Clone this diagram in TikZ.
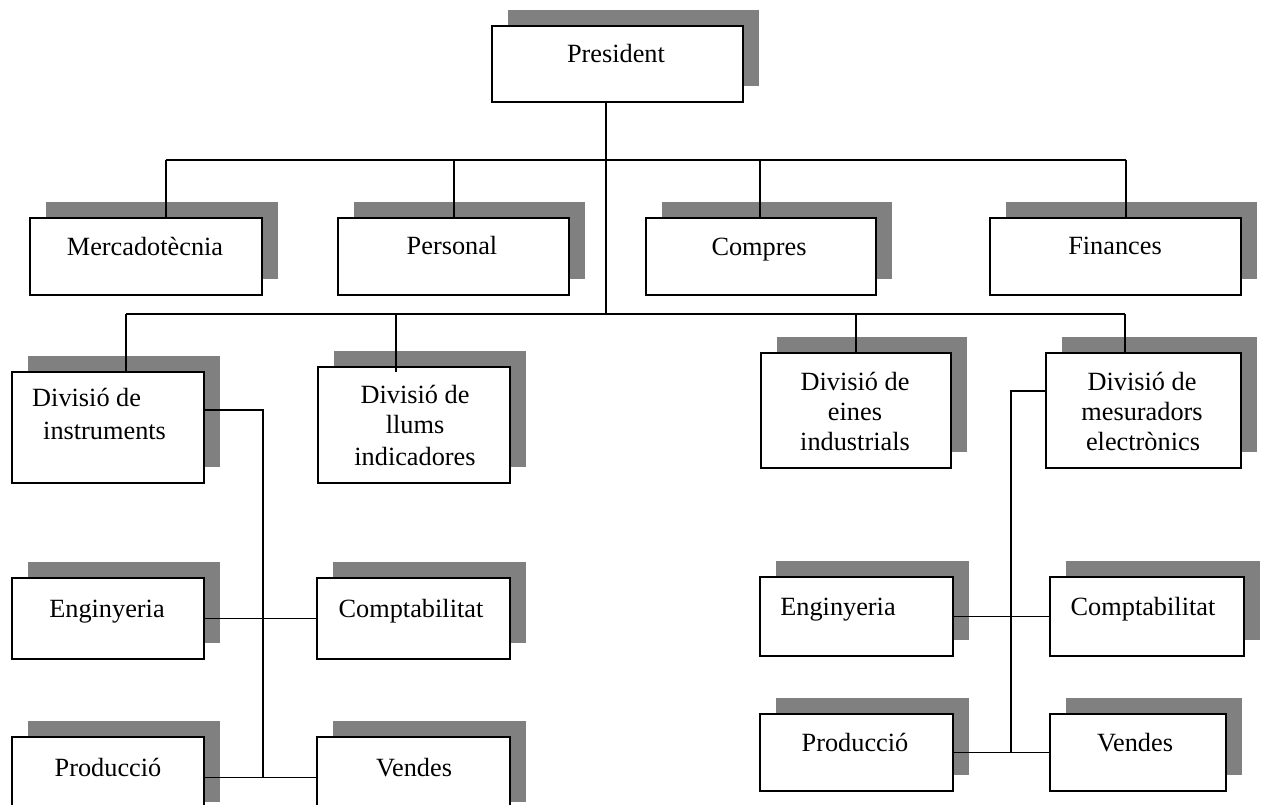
\documentclass[tikz,border=0pt]{standalone}
\usepackage{fontspec}
\setmainfont{Liberation Serif}
\usetikzlibrary{shadows}
\definecolor{shadowgray}{RGB}{128,128,128}
\begin{document}
\begin{tikzpicture}[x=1pt,y=-1pt,
  orgbox/.style={draw=black, line width=1.8pt, fill=white, inner sep=0pt, rectangle,
    drop shadow={shadow xshift=16pt, shadow yshift=16pt, fill=shadowgray, opacity=1}},
  boxsize/.style 2 args={minimum width=#1pt, minimum height=#2pt},
  lbl/.style={inner sep=0pt, anchor=base, font=\fontsize{26.3pt}{31pt}\selectfont},
  lblw/.style={lbl, anchor=base west},
  link/.style={line width=1.8pt, draw=black}]
\useasboundingbox (0,0) rectangle (1265,805);
\clip (0,0) rectangle (1265,805);

% ---- top level
\node[orgbox, boxsize={251}{76}] (pres) at (617.5,64) {};
\node[lbl] (pres-t) at (616,63) {President};

% ---- staff departments
\node[orgbox, boxsize={232}{77}] (merc) at (146,256.5) {};
\node[lbl] (merc-t) at (145,255) {Mercadotècnia};
\node[orgbox, boxsize={231}{77}] (pers) at (453.5,256.5) {};
\node[lbl] (pers-t) at (452,254) {Personal};
\node[orgbox, boxsize={230}{77}] (comp) at (761,256.5) {};
\node[lbl] (comp-t) at (759,255) {Compres};
\node[orgbox, boxsize={251}{77}] (fin) at (1115.5,256.5) {};
\node[lbl] (fin-t) at (1115,254) {Finances};

% ---- divisions
\node[orgbox, boxsize={192}{111}] (instr) at (108,427.5) {};
\node[lblw] (instr-t1) at (32,406) {Divisió de};
\node[lblw] (instr-t2) at (43,439) {instruments};

\node[orgbox, boxsize={192}{116}] (llums) at (414,425) {};
\node[lbl] (llums-t1) at (415,403) {Divisió de};
\node[lbl] (llums-t2) at (415,433) {llums};
\node[lbl] (llums-t3) at (415,465) {indicadores};

\node[orgbox, boxsize={190}{115}] (eines) at (856,410.5) {};
\node[lbl] (eines-t1) at (855,390) {Divisió de};
\node[lbl] (eines-t2) at (855,420) {eines};
\node[lbl] (eines-t3) at (855,450) {industrials};

\node[orgbox, boxsize={195}{115}] (mesur) at (1143.5,410.5) {};
\node[lbl] (mesur-t1) at (1142,390) {Divisió de};
\node[lbl] (mesur-t2) at (1142,420) {mesuradors};
\node[lbl] (mesur-t3) at (1143,450) {electrònics};

% ---- units of the instruments division
\node[orgbox, boxsize={192}{81}] (leng) at (108,618.5) {};
\node[lbl] (leng-t) at (107,617) {Enginyeria};
\node[orgbox, boxsize={193}{81}] (lcomp) at (413.5,618.5) {};
\node[lbl] (lcomp-t) at (411,617) {Comptabilitat};
\node[orgbox, boxsize={192}{81}] (lprod) at (108,777.5) {};
\node[lbl] (lprod-t) at (108,776) {Producció};
\node[orgbox, boxsize={193}{81}] (lvend) at (413.5,777.5) {};
\node[lbl] (lvend-t) at (414,776) {Vendes};

% ---- units of the electronic meters division
\node[orgbox, boxsize={193}{79}] (reng) at (856.5,616.5) {};
\node[lbl] (reng-t) at (838,615) {Enginyeria};
\node[orgbox, boxsize={194}{79}] (rcomp) at (1147,616.5) {};
\node[lbl] (rcomp-t) at (1143,615) {Comptabilitat};
\node[orgbox, boxsize={193}{77}] (rprod) at (856.5,752.5) {};
\node[lbl] (rprod-t) at (855,751) {Producció};
\node[orgbox, boxsize={176}{77}] (rvend) at (1138,752.5) {};
\node[lbl] (rvend-t) at (1135,751) {Vendes};

% ---- junction points
\coordinate (t0) at (606,160);
\coordinate (b0) at (606,314);
\coordinate (tm) at (166,160);
\coordinate (tp) at (454,160);
\coordinate (tc) at (760,160);
\coordinate (tf) at (1126,160);
\coordinate (bi) at (126,314);
\coordinate (bl) at (396,314);
\coordinate (be) at (856,314);
\coordinate (bm) at (1125,314);
\coordinate (li) at (263,410);
\coordinate (ri) at (1011,391);

% ---- connectors
\draw[link] (pres.south -| t0) -- (b0);
\draw[link] (tm) -- (tf);
\draw[link] (bi) -- (bm);
\draw[link] (tm) -- (tm |- merc.north);
\draw[link] (tp) -- (tp |- pers.north);
\draw[link] (tc) -- (tc |- comp.north);
\draw[link] (tf) -- (tf |- fin.north);
\draw[link] (bi) -- (bi |- instr.north);
\draw[link] (bl) -- ([yshift=-6pt]bl |- llums.north);
\draw[link] (be) -- (be |- eines.north);
\draw[link] (bm) -- (bm |- mesur.north);

\draw[link] (instr.east |- li) -- (li) -- (li |- lprod.east);
\draw[link] (leng.east) -- (lcomp.west);
\draw[link] (lprod.east) -- (lvend.west);

\draw[link] (mesur.west |- ri) -- (ri) -- (ri |- rprod.east);
\draw[link] (reng.east) -- (rcomp.west);
\draw[link] (rprod.east) -- (rvend.west);
\end{tikzpicture}
\end{document}
